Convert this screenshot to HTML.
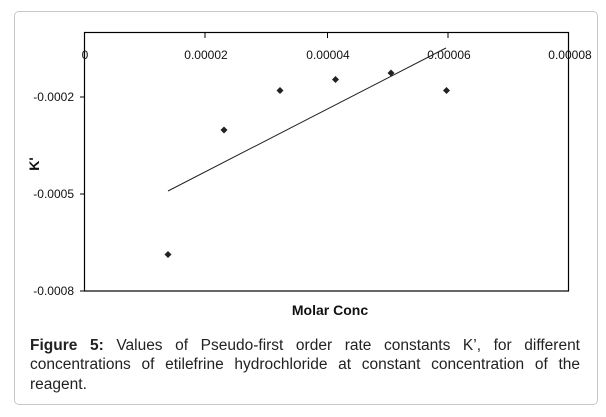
<!DOCTYPE html>
<html><head><meta charset="utf-8"><style>
html,body{margin:0;padding:0;background:#fff;}
body{width:606px;height:417px;position:relative;overflow:hidden;font-family:"Liberation Sans",Arial,sans-serif;}
.frame{position:absolute;left:14px;top:11px;width:584px;height:394px;border:1px solid #c8c8c8;border-radius:5px;box-sizing:border-box;}
.cap{position:absolute;left:30px;top:336px;width:550px;font-size:15.5px;line-height:19.3px;color:#222;text-align:justify;}
</style></head><body>
<div class="frame"></div>
<svg width="606" height="417" style="position:absolute;left:0;top:0" font-family="Liberation Sans, Arial, sans-serif">
<rect x="84.5" y="32.5" width="484" height="258.5" fill="none" stroke="#000" stroke-width="1.2"/>
<g stroke="#000" stroke-width="1">
<line x1="205" y1="33" x2="205" y2="38"/><line x1="327.5" y1="33" x2="327.5" y2="38"/><line x1="448" y1="33" x2="448" y2="38"/>
<line x1="80" y1="97" x2="85" y2="97"/><line x1="80" y1="194" x2="85" y2="194"/><line x1="80" y1="291" x2="85" y2="291"/>
</g>
<g font-size="12" fill="#111" text-anchor="middle">
<text x="85" y="59">0</text><text x="206" y="59">0.00002</text><text x="328" y="59">0.00004</text><text x="449" y="59">0.00006</text><text x="570" y="59">0.00008</text>
</g>
<g font-size="12" fill="#111" text-anchor="end">
<text x="74" y="101">-0.0002</text><text x="74" y="198">-0.0005</text><text x="74" y="295">-0.0008</text>
</g>
<line x1="168" y1="191" x2="446" y2="48" stroke="#222" stroke-width="1"/>
<g fill="#222">
<path d="M168 251 l3.5 3.5 -3.5 3.5 -3.5 -3.5z"/>
<path d="M224 126.5 l3.5 3.5 -3.5 3.5 -3.5 -3.5z"/>
<path d="M280 87 l3.5 3.5 -3.5 3.5 -3.5 -3.5z"/>
<path d="M335.5 76 l3.5 3.5 -3.5 3.5 -3.5 -3.5z"/>
<path d="M391 69.5 l3.5 3.5 -3.5 3.5 -3.5 -3.5z"/>
<path d="M446.5 87 l3.5 3.5 -3.5 3.5 -3.5 -3.5z"/>
</g>
<text x="330" y="315" font-size="14" font-weight="bold" text-anchor="middle" fill="#111">Molar Conc</text>
<text transform="translate(39,164) rotate(-90)" font-size="14" font-weight="bold" text-anchor="middle" fill="#111">K'</text>
</svg>
<div class="cap"><b>Figure 5:</b> Values of Pseudo-first order rate constants K’, for different concentrations of etilefrine hydrochloride at constant concentration of the reagent.</div>
</body></html>
